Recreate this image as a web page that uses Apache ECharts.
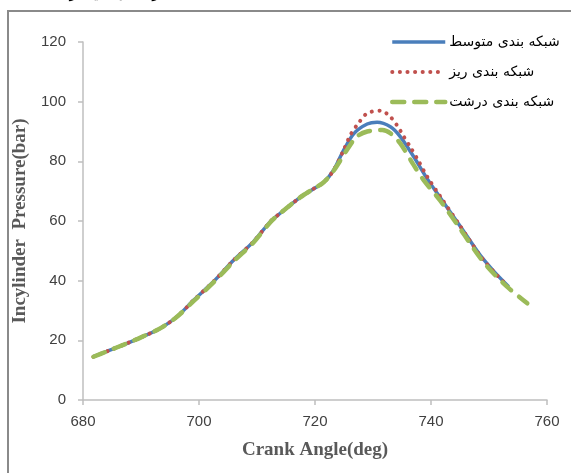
<!DOCTYPE html>
<html>
<head>
<meta charset="utf-8">
<script src="https://cdn.jsdelivr.net/npm/echarts@6/dist/echarts.min.js"></script>
<style>
  html, body { margin: 0; padding: 0; background: #ffffff; }
  #chart { width: 571px; height: 473px; }
</style>
</head>
<body>
<div id="chart"></div>
<script>
// Crank angle (deg) and in-cylinder pressure (bar) for three mesh sizes
const seriesNames = ['شبکه بندی متوسط', 'شبکه بندی ریز', 'شبکه بندی درشت'];

const angleMedium = [681.8, 684, 687.6, 690, 693.3, 696.2, 699.1, 702.5, 706, 709.4, 712.3, 714, 717.5, 719.5, 721.5, 723.2, 724.9, 726.7, 729, 730.7, 733, 734.7, 737, 739.3, 741.6, 745.1, 748.5, 751, 753.4];
const pressureMedium = [14.5, 16.2, 19.0, 21.0, 24.0, 27.9, 33.5, 39.7, 46.9, 53.1, 59.8, 62.6, 68.0, 70.5, 73.0, 77.0, 83.6, 89.3, 92.5, 93.1, 91.6, 88.3, 81.6, 74.3, 67.8, 58.1, 48.5, 42.8, 38.0];

const angleFine = [681.8, 684, 687.6, 690, 693.3, 696.2, 699.1, 702.5, 706, 709.4, 712.3, 714, 717.5, 719.5, 721.5, 723.2, 724.9, 726.1, 727.5, 729, 731.3, 732.7, 734.1, 735.3, 736.4, 737.9, 739.3, 741.6, 745.1, 748.5, 751, 753.2];
const pressureFine = [14.5, 16.2, 19.0, 21.0, 24.0, 27.9, 33.5, 39.7, 46.9, 53.1, 59.8, 62.6, 68.0, 70.5, 73.0, 77.0, 83.6, 88.8, 92.8, 96.1, 97.0, 95.5, 92.2, 88.3, 84.9, 79.9, 75.0, 68.2, 58.1, 48.3, 42.6, 38.2];

const angleCoarse = [681.8, 684, 687.6, 690, 693.3, 696.2, 699.1, 702.5, 706, 709.4, 712.3, 714, 717.5, 719.5, 721.5, 723.2, 725.5, 727.2, 729, 731.6, 733, 734.7, 737, 738.7, 741.6, 745.1, 748.5, 751, 753.4, 756.6];
const pressureCoarse = [14.5, 16.2, 19.0, 21.0, 24.0, 27.9, 33.2, 39.4, 46.5, 52.8, 59.6, 62.6, 68.0, 70.5, 73.0, 76.8, 83.8, 88.3, 90.0, 90.5, 89.4, 86.0, 78.8, 73.8, 66.8, 57.2, 47.6, 42.0, 37.5, 32.4];

const xTicks = [680, 700, 720, 740, 760];
const yTicks = [0, 20, 40, 60, 80, 100, 120];

function pairs(xs, ys) {
  return xs.map((x, i) => [x, ys[i]]);
}

const chart = echarts.init(document.getElementById('chart'), null, { renderer: 'canvas' });

const axisLabelStyle = { color: '#404040', fontFamily: 'Liberation Sans', fontSize: 15 };
const axisNameStyle = { color: '#595959', fontFamily: 'Liberation Serif', fontWeight: 'bold', fontSize: 19 };

const lineMedium = { color: '#4a7ebb', width: 3.5 };
const lineFine = { color: '#c0504d', width: 4, type: [0.1, 7.5], cap: 'round' };
const lineCoarse = { color: '#9bbb59', width: 4.5, type: [12, 10], cap: 'round' };

chart.setOption({
  animation: false,
  backgroundColor: '#ffffff',
  graphic: [
    {
      type: 'rect',
      shape: { x: 8, y: 11, width: 620, height: 520 },
      style: { fill: 'none', stroke: '#8a8a8a', lineWidth: 2 },
      z: 0
    },
    {
      type: 'text',
      x: 127, y: 2,
      style: {
        text: 'فشار داخل سیلندر',
        fontFamily: 'DejaVu Sans', fontSize: 15, fill: '#000000',
        textAlign: 'center', textVerticalAlign: 'bottom'
      }
    }
  ],
  grid: { left: 83, top: 42, width: 464, height: 358, containLabel: false },
  legend: {
    orient: 'vertical',
    left: 385,
    top: 30,
    itemWidth: 53,
    itemHeight: 14,
    itemGap: 16,
    itemStyle: { opacity: 0 },
    textStyle: { color: '#000000', fontFamily: 'DejaVu Sans', fontSize: 14, padding: [0, 0, 0, -1] },
    data: [
      { name: seriesNames[0], lineStyle: lineMedium },
      { name: seriesNames[1], lineStyle: lineFine },
      { name: seriesNames[2], lineStyle: lineCoarse }
    ]
  },
  xAxis: {
    type: 'value',
    min: 680, max: 760, interval: 20,
    name: 'Crank Angle(deg)',
    nameLocation: 'middle',
    nameGap: 41,
    nameTextStyle: axisNameStyle,
    axisLine: { show: true, lineStyle: { color: '#bfbfbf', width: 1.5 } },
    axisTick: { show: true, length: 5, lineStyle: { color: '#bfbfbf', width: 1.5 } },
    axisLabel: Object.assign({ margin: 14, formatter: v => xTicks.includes(v) ? String(v) : '' }, axisLabelStyle),
    splitLine: { show: false }
  },
  yAxis: {
    type: 'value',
    min: 0, max: 120, interval: 20,
    name: 'Incylinder  Pressure(bar)',
    nameLocation: 'middle',
    nameGap: 34,
    nameRotate: 90,
    nameTextStyle: axisNameStyle,
    axisLine: { show: true, lineStyle: { color: '#bfbfbf', width: 1.5 } },
    axisTick: { show: true, length: 5, lineStyle: { color: '#bfbfbf', width: 1.5 } },
    axisLabel: Object.assign({ margin: 17, formatter: v => yTicks.includes(v) ? String(v) : '' }, axisLabelStyle),
    splitLine: { show: false }
  },
  series: [
    {
      name: seriesNames[0],
      type: 'line',
      data: pairs(angleMedium, pressureMedium),
      smooth: 0.3,
      symbol: 'none',
      lineStyle: lineMedium,
      itemStyle: { color: lineMedium.color },
      z: 2
    },
    {
      name: seriesNames[1],
      type: 'line',
      data: pairs(angleFine, pressureFine),
      smooth: 0.3,
      symbol: 'none',
      lineStyle: lineFine,
      itemStyle: { color: lineFine.color },
      z: 3
    },
    {
      name: seriesNames[2],
      type: 'line',
      data: pairs(angleCoarse, pressureCoarse),
      smooth: 0.3,
      symbol: 'none',
      lineStyle: lineCoarse,
      itemStyle: { color: lineCoarse.color },
      z: 4
    }
  ]
});
</script>
</body>
</html>
